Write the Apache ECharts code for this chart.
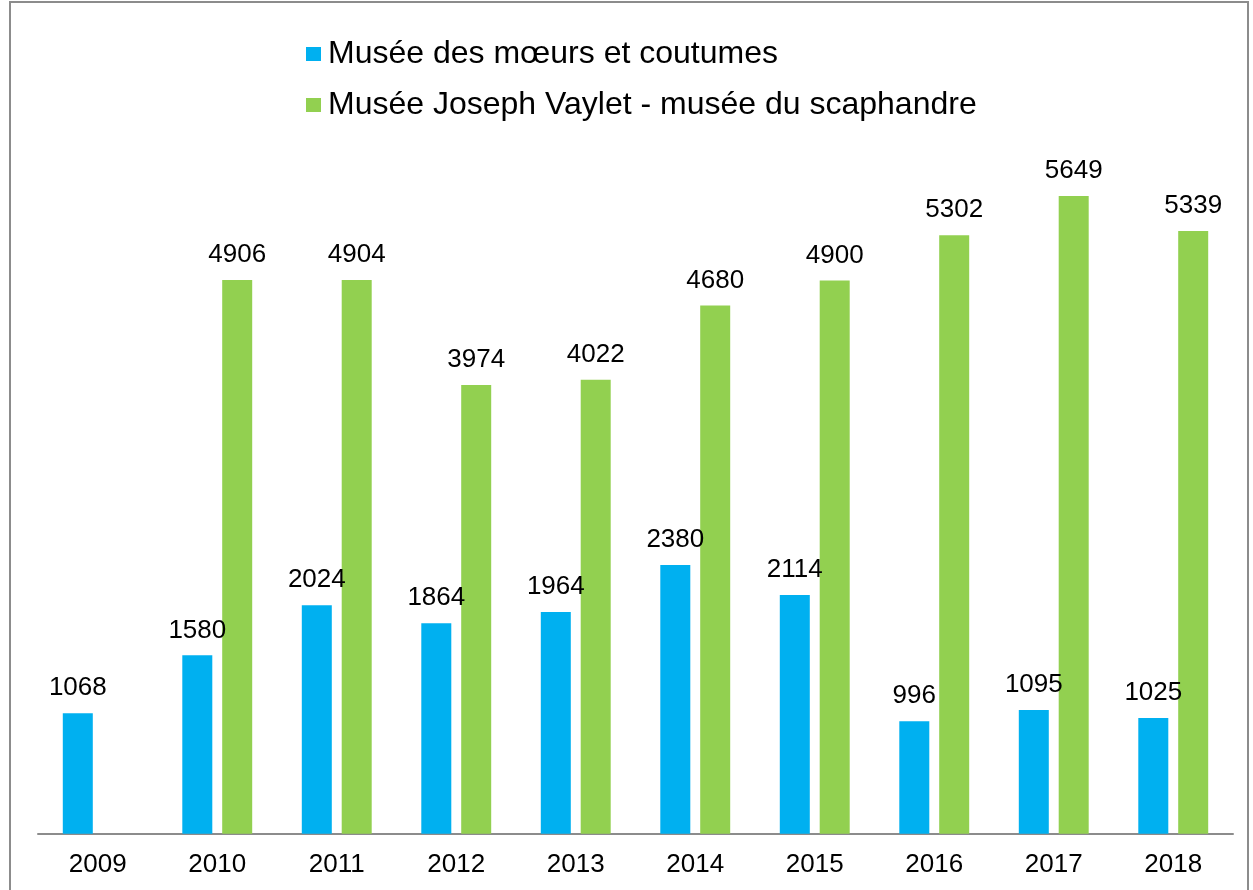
<!DOCTYPE html>
<html><head><meta charset="utf-8">
<script src="https://cdn.jsdelivr.net/npm/echarts@6/dist/echarts.min.js"></script>
<style>html,body{margin:0;padding:0;background:#fff}#c{width:1253px;height:890px}
#frame{position:absolute;left:9px;top:1px;width:1240px;height:900px;border:2px solid #8c8c8c;box-sizing:border-box;pointer-events:none}</style>
</head><body><div id="c"></div><div id="frame"></div>
<script>
const years = ['2009','2010','2011','2012','2013','2014','2015','2016','2017','2018'];
const moeurs = [1068,1580,2024,1864,1964,2380,2114,996,1095,1025];
const vaylet = [null,4906,4904,3974,4022,4680,4900,5302,5649,5339];
const names = ['Musée des mœurs et coutumes','Musée Joseph Vaylet - musée du scaphandre'];
const chart = echarts.init(document.getElementById('c'));
const lbl = {show:true,position:'top',distance:12,color:'#000',fontSize:26,fontFamily:'Liberation Sans, Arial, sans-serif'};
chart.setOption({
  animation:false,
  textStyle:{fontFamily:'Liberation Sans, Arial, sans-serif'},
  legend:{orient:'vertical',left:301,top:33,itemWidth:15,itemHeight:14,itemGap:19,icon:'rect',
    textStyle:{fontSize:32,color:'#000',padding:[0,0,0,2]},data:names},
  grid:{left:38,right:20,top:156.4,bottom:56.3,containLabel:false},
  xAxis:{type:'category',data:years,axisTick:{show:false},
    axisLine:{lineStyle:{color:'#8c8c8c',width:2}},
    axisLabel:{color:'#000',fontSize:26,margin:18}},
  yAxis:{type:'value',min:0,max:6000,show:false,splitLine:{show:false}},
  series:[
    {name:names[0],type:'bar',data:moeurs,barWidth:30,barGap:'33%',itemStyle:{color:'#00B0F0'},label:lbl},
    {name:names[1],type:'bar',data:vaylet,barWidth:30,barGap:'33%',itemStyle:{color:'#92D050'},label:lbl}
  ]
});
</script></body></html>
